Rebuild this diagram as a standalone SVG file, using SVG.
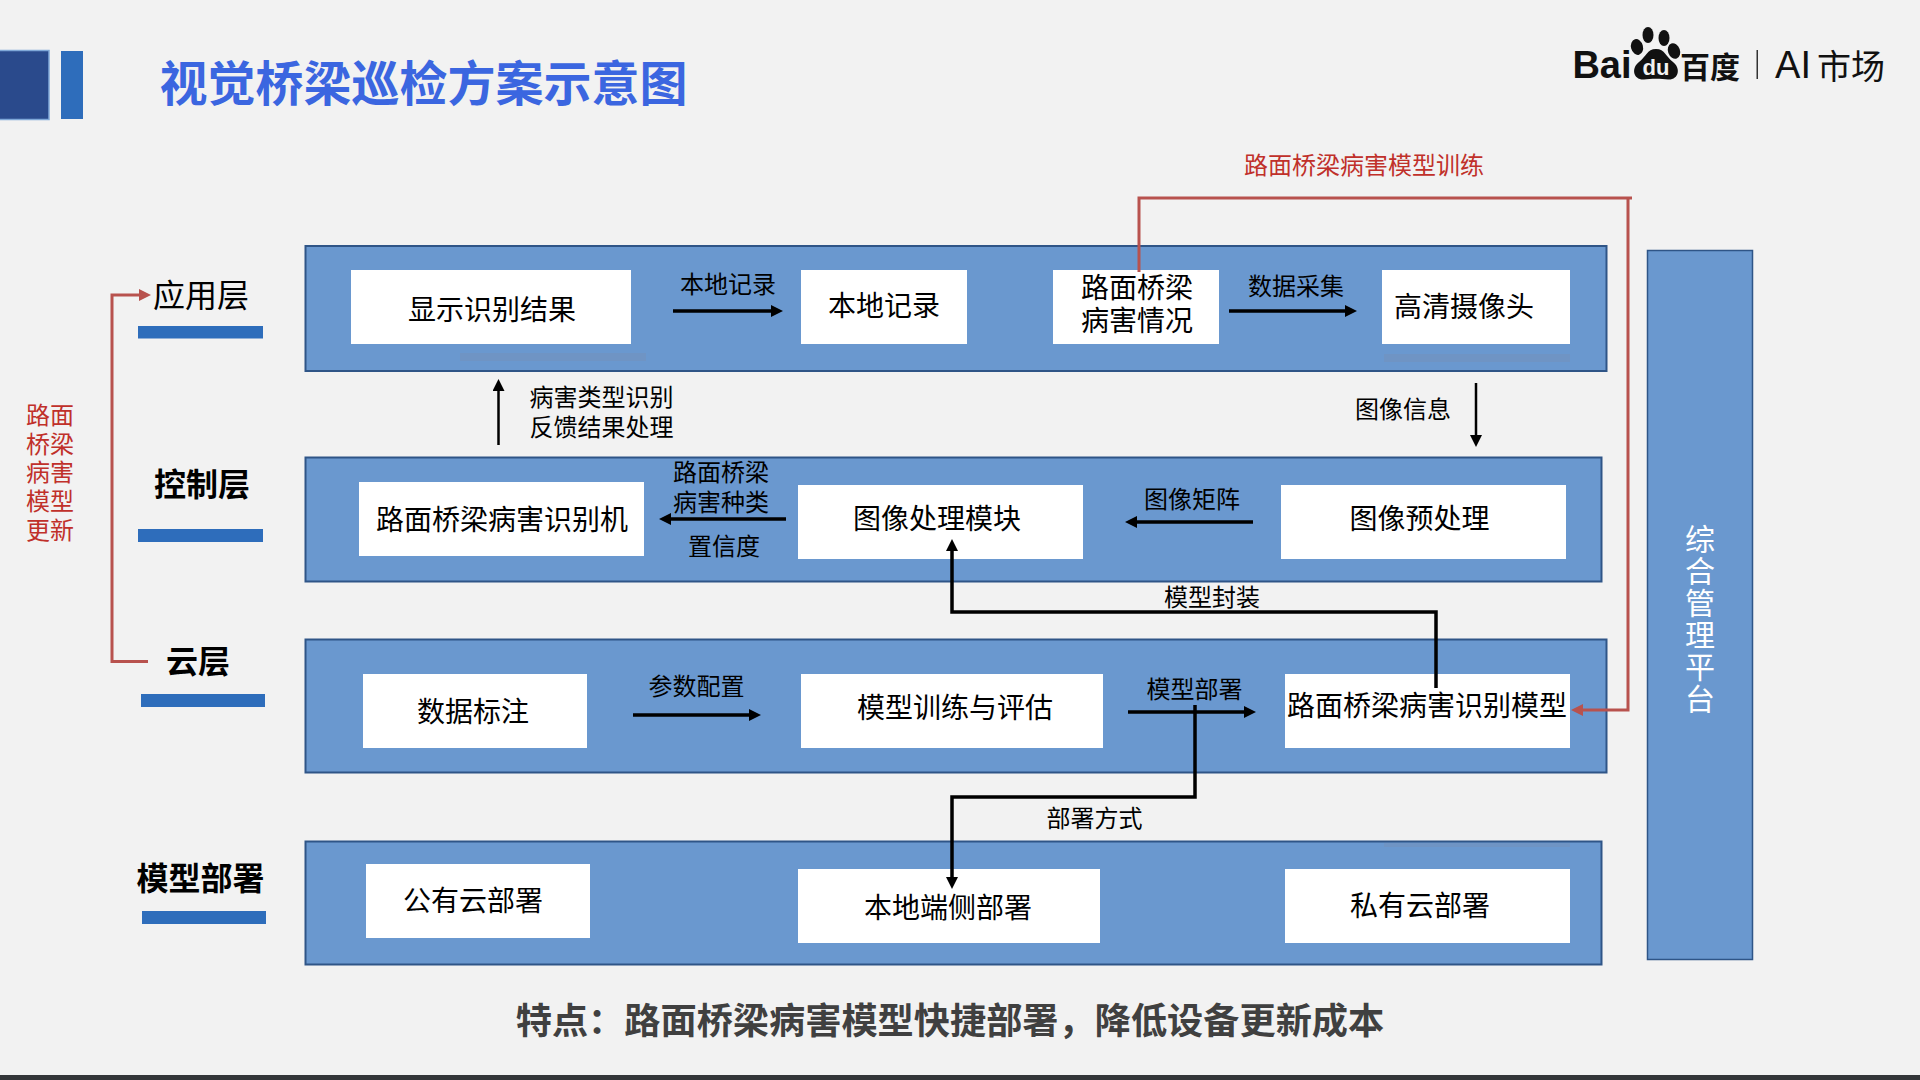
<svg xmlns="http://www.w3.org/2000/svg" width="1920" height="1080" viewBox="0 0 1920 1080">
<style>
text{font-family:"Liberation Sans","Noto Sans CJK SC",sans-serif;text-anchor:middle;dominant-baseline:central;fill:#000}
.cjk{font-family:"Noto Sans CJK SC",sans-serif}
.band{fill:#6a98cf;stroke:#2f5587;stroke-width:2}
.box{fill:#fff}
.bar{fill:#2e6dbb}
.smudge{fill:#6f94c4}
.t28{font-size:28px}
.t24{font-size:24px}
.tier{font-size:32px}
.bold{font-weight:700}
.red{fill:#c0302a}
.side{font-size:30px;fill:#fff}
.k2{fill:none;stroke:#000;stroke-width:2.5}
.k3{fill:none;stroke:#000;stroke-width:3.500}
.r{fill:none;stroke:#b8524e;stroke-width:3}
</style>
<defs>
<marker id="ak" viewBox="0 0 12 12" markerWidth="12" markerHeight="12" markerUnits="userSpaceOnUse" refX="8" refY="6" orient="auto"><path d="M0 0L12 6L0 12Z" fill="#000"/></marker>
<marker id="ar" viewBox="0 0 12 12" markerWidth="12" markerHeight="12" markerUnits="userSpaceOnUse" refX="8" refY="6" orient="auto"><path d="M0 0L12 6L0 12Z" fill="#b8524e"/></marker>
</defs>
<rect width="1920" height="1080" fill="#f2f2f2"/>
<rect y="1075" width="1920" height="5" fill="#333639"/>
<g id="header">
<rect x="-2" y="50.500" width="51" height="69" fill="#2a4a8c" stroke="#7fa8d8" stroke-width="1.500"/>
<rect x="61" y="51" width="22" height="68" fill="#2e6dbb"/>
<text class="bold cjk" x="423.500" y="80" font-size="48" style="fill:#3b66e0">视觉桥梁巡检方案示意图</text>
</g>
<g id="logo">
<text class="bold" x="1602" y="65" font-size="38" style="fill:#111">Bai</text>
<ellipse cx="1648" cy="35" rx="5.500" ry="8" fill="#111"/>
<ellipse cx="1664" cy="38" rx="5.500" ry="8" fill="#111"/>
<ellipse cx="1637" cy="47" rx="6" ry="8" fill="#111" transform="rotate(-15 1637 47)"/>
<ellipse cx="1674" cy="51" rx="6" ry="8" fill="#111" transform="rotate(-20 1674 51)"/>
<path d="M1656 49C1647 49 1646 57 1639 62C1631 68 1633 80 1644 79.500C1650 78.500 1662 78.500 1668 79.500C1679 80 1681 68 1673 62C1666 57 1665 49 1656 49Z" fill="#111"/>
<text class="bold" x="1656" y="67" font-size="22" style="fill:#f2f2f2">du</text>
<text class="bold cjk" x="1710" y="65" font-size="30" style="fill:#111">百度</text>
<rect x="1756.500" y="50" width="1.500" height="29" fill="#333"/>
<text x="1793" y="65" font-size="38" style="fill:#111">AI</text>
<text class="cjk" x="1851" y="64" font-size="34" style="fill:#111">市场</text>
</g>
<g id="tier-labels">
<text id="tier-app" class="tier" x="201" y="296">应用层</text>
<rect class="bar" x="138" y="326" width="125" height="12.500"/>
<text id="tier-control" class="tier bold" x="202" y="485">控制层</text>
<rect class="bar" x="138" y="529" width="125" height="13"/>
<text id="tier-cloud" class="tier bold" x="198" y="662">云层</text>
<rect class="bar" x="141" y="694" width="124" height="13"/>
<text id="tier-deploy" class="tier bold" x="200.500" y="879">模型部署</text>
<rect class="bar" x="142" y="911" width="124" height="13"/>
</g>
<g id="update-label">
<text class="t24 red" x="50" y="415">路面</text>
<text class="t24 red" x="50" y="444">桥梁</text>
<text class="t24 red" x="50" y="472">病害</text>
<text class="t24 red" x="50" y="501">模型</text>
<text class="t24 red" x="50" y="530">更新</text>
</g>
<g id="band-app"><rect class="band" x="305.500" y="246" width="1301" height="125"/><rect class="smudge" x="460" y="353" width="186" height="8"/><rect class="smudge" x="1384" y="354" width="186" height="8"/></g>
<g id="band-control"><rect class="band" x="305.500" y="457.500" width="1296" height="124"/></g>
<g id="band-cloud"><rect class="band" x="305.500" y="639.500" width="1301" height="133"/></g>
<g id="band-deploy"><rect class="band" x="305.500" y="841.500" width="1296" height="123"/><rect class="smudge" x="1384" y="843" width="186" height="4"/></g>
<g id="n-display"><rect class="box" x="351" y="270" width="280" height="74"/><text class="t28" x="492" y="310">显示识别结果</text></g>
<g id="n-local"><rect class="box" x="801" y="270" width="166" height="74"/><text class="t28" x="884" y="306">本地记录</text></g>
<g id="n-condition"><rect class="box" x="1053" y="270" width="166" height="74"/><text class="t28" x="1137" y="288">路面桥梁</text><text class="t28" x="1137" y="321">病害情况</text></g>
<g id="n-camera"><rect class="box" x="1382" y="270" width="188" height="74"/><text class="t28" x="1464" y="307">高清摄像头</text></g>
<g id="n-recognizer"><rect class="box" x="359" y="482" width="285" height="74"/><text class="t28" x="502" y="520">路面桥梁病害识别机</text></g>
<g id="n-imgproc"><rect class="box" x="798" y="485" width="285" height="74"/><text class="t28" x="937" y="519">图像处理模块</text></g>
<g id="n-preproc"><rect class="box" x="1281" y="485" width="285" height="74"/><text class="t28" x="1419.500" y="519">图像预处理</text></g>
<g id="n-annotate"><rect class="box" x="363" y="674" width="224" height="74"/><text class="t28" x="473" y="712">数据标注</text></g>
<g id="n-train"><rect class="box" x="801" y="674" width="302" height="74"/><text class="t28" x="955" y="708">模型训练与评估</text></g>
<g id="n-model"><rect class="box" x="1285" y="674" width="285" height="74"/><text class="t28" x="1427" y="706">路面桥梁病害识别模型</text></g>
<g id="n-public"><rect class="box" x="366" y="864" width="224" height="74"/><text class="t28" x="473" y="901">公有云部署</text></g>
<g id="n-edge"><rect class="box" x="798" y="869" width="302" height="74"/><text class="t28" x="948" y="908">本地端侧部署</text></g>
<g id="n-private"><rect class="box" x="1285" y="869" width="285" height="74"/><text class="t28" x="1420" y="906">私有云部署</text></g>
<g id="n-platform"><rect x="1647.500" y="250.500" width="105" height="709" fill="#6a98cf" stroke="#2f5587" stroke-width="1.500"/>
<text class="side" x="1700" y="539">综</text><text class="side" x="1700" y="571">合</text><text class="side" x="1700" y="603">管</text><text class="side" x="1700" y="635">理</text><text class="side" x="1700" y="667">平</text><text class="side" x="1700" y="699">台</text></g>
<g id="connectors">
<path class="k3" d="M673 311H779" marker-end="url(#ak)"/>
<path class="k3" d="M1229 311H1353" marker-end="url(#ak)"/>
<path class="k2" d="M1476 383V443" marker-end="url(#ak)"/>
<path class="k2" d="M498.500 445V383" marker-end="url(#ak)"/>
<path class="k3" d="M786 519H663" marker-end="url(#ak)"/>
<path class="k3" d="M1253 522H1129" marker-end="url(#ak)"/>
<path class="k3" d="M633 715H757" marker-end="url(#ak)"/>
<path class="k3" d="M1128 712H1252" marker-end="url(#ak)"/>
<path class="k3" d="M1436 688V612H952V543" marker-end="url(#ak)"/>
<path class="k3" d="M1195 705V797H952V885" marker-end="url(#ak)"/>
<path class="r" d="M1139 272V198H1632"/>
<path class="r" d="M1628 198V710H1575" marker-end="url(#ar)"/>
<path class="r" d="M148 661.500H112V295H147" marker-end="url(#ar)"/>
</g>
<g id="edge-labels">
<text class="t24 red" x="1364" y="165">路面桥梁病害模型训练</text>
<text class="t24" x="728" y="284.500">本地记录</text>
<text class="t24" x="1296" y="286">数据采集</text>
<text class="t24" x="1403" y="409.500">图像信息</text>
<text class="t24" x="601.500" y="397">病害类型识别</text>
<text class="t24" x="601.500" y="427">反馈结果处理</text>
<text class="t24" x="721" y="472">路面桥梁</text>
<text class="t24" x="721" y="502">病害种类</text>
<text class="t24" x="724" y="546.500">置信度</text>
<text class="t24" x="1192" y="499">图像矩阵</text>
<text class="t24" x="1212" y="597.500">模型封装</text>
<text class="t24" x="696.500" y="686">参数配置</text>
<text class="t24" x="1194.500" y="689">模型部署</text>
<text class="t24" x="1094.500" y="818.500">部署方式</text>
</g>
<text id="footer" class="bold" x="950" y="1021" font-size="36.200" style="fill:#404040">特点：路面桥梁病害模型快捷部署，降低设备更新成本</text>
</svg>
